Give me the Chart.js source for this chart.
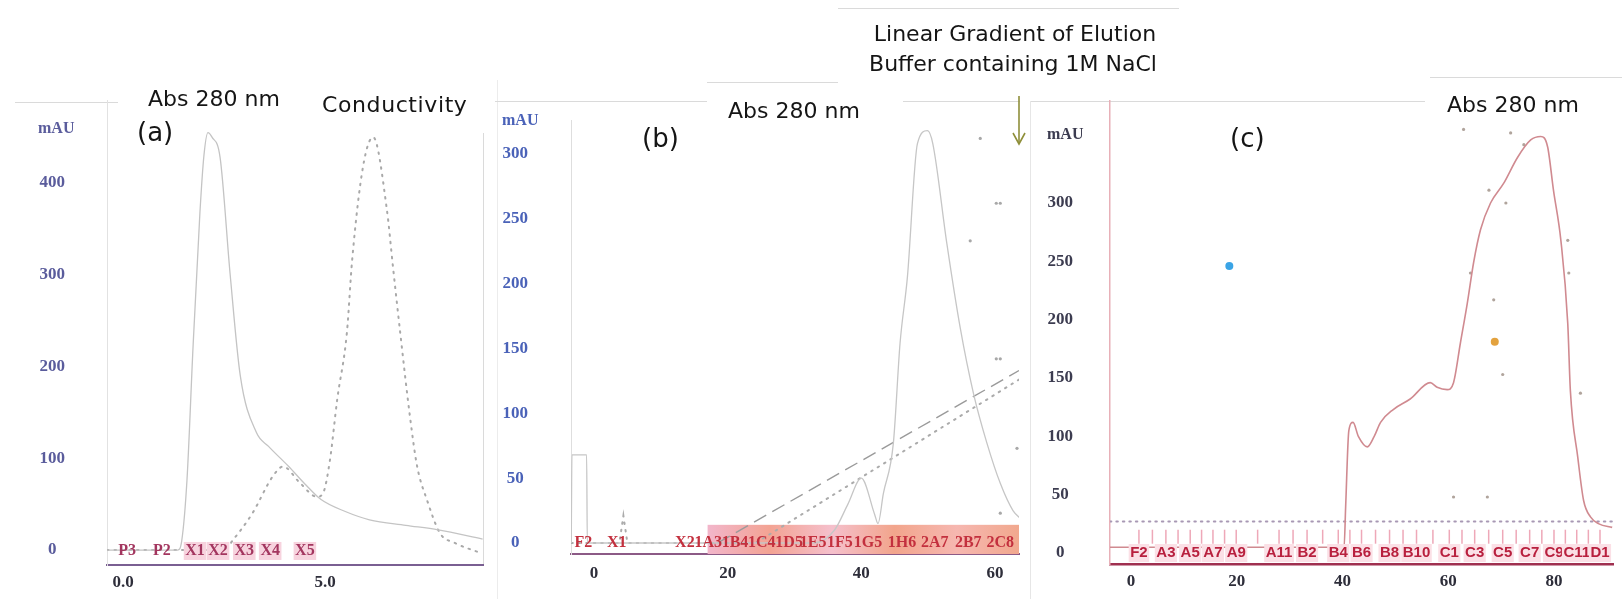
<!DOCTYPE html>
<html>
<head>
<meta charset="utf-8">
<script src="https://cdn.jsdelivr.net/npm/chart.js@4"></script>
<style>
body { margin: 0; background: #fff; width: 1622px; height: 599px; overflow: hidden; position: relative; font-family: 'DejaVu Sans', sans-serif; }
canvas { position: absolute; top: 0; }
.t { position: absolute; white-space: nowrap; font-size: 22px; line-height: 22px; color: #151515; }
.mau { position: absolute; font: bold 16px 'Liberation Serif', serif; line-height: 16px; }
.ln { position: absolute; background: #dadada; }
</style>
</head>
<body>
<!-- scan frame lines -->
<div class="ln" style="left:15px;top:102px;width:103px;height:1px"></div>
<div class="ln" style="left:483px;top:133px;width:1px;height:432px"></div>
<div class="ln" style="left:497px;top:80px;width:1px;height:519px;background:#ececec"></div>
<div class="ln" style="left:495px;top:101px;width:212px;height:1px"></div>
<div class="ln" style="left:707px;top:82px;width:131px;height:1px"></div>
<div class="ln" style="left:903px;top:101px;width:117px;height:1px"></div>
<div class="ln" style="left:838px;top:8px;width:341px;height:1px"></div>
<div class="ln" style="left:1030px;top:101px;width:395px;height:1px"></div>
<div class="ln" style="left:1430px;top:77px;width:192px;height:1px"></div>
<div class="ln" style="left:1030px;top:101px;width:1px;height:498px;background:#e6e6e6"></div>

<canvas id="chartA" width="500" height="599" style="left:0px"></canvas>
<canvas id="chartB" width="525" height="599" style="left:500px"></canvas>
<canvas id="chartC" width="597" height="599" style="left:1025px"></canvas>

<div class="t" style="left:148px;top:88px">Abs 280 nm</div>
<div class="t" style="left:322px;top:94px;letter-spacing:0.6px">Conductivity</div>
<div class="t" style="left:137px;top:119px;font-size:26px;line-height:26px">(a)</div>
<div class="mau" style="left:38px;top:120px;color:#5a5c9c">mAU</div>

<div class="t" style="left:728px;top:100px">Abs 280 nm</div>
<div class="t" style="left:642px;top:125px;font-size:26px;line-height:26px">(b)</div>
<div class="mau" style="left:502px;top:112px;color:#4a62b8">mAU</div>
<div class="t" style="left:1015px;top:23px;transform:translateX(-50%)">Linear Gradient of Elution</div>
<div class="t" style="left:1013px;top:53px;transform:translateX(-50%)">Buffer containing 1M NaCl</div>
<svg style="position:absolute;left:1011px;top:96px" width="16" height="52">
  <line x1="8" y1="0" x2="8" y2="48" stroke="#8f8f3a" stroke-width="1.6"/>
  <polyline points="2,37 8,48 14,37" fill="none" stroke="#8f8f3a" stroke-width="1.6"/>
</svg>

<div class="t" style="left:1447px;top:94px">Abs 280 nm</div>
<div class="t" style="left:1230px;top:125px;font-size:26px;line-height:26px">(c)</div>
<div class="mau" style="left:1047px;top:126px;color:#3c3c50">mAU</div>

<script>
// ---- (a) gel filtration: volume (ml) vs mAU ----
const aTime = [-0.4, 0.5, 1.35, 1.45, 1.58, 1.73, 1.9, 2.0, 2.1, 2.2, 2.4, 2.65, 2.9, 3.3, 3.6, 4.1, 4.5, 4.9, 5.5, 6.1, 7.0, 7.8, 8.9];
const aAbs = [0, 0, 0, 10, 76, 221, 367, 430, 455, 450, 428, 300, 190, 128, 113, 91, 72, 55, 42, 33, 27, 22, 12];
const aCondTime = [-0.4, 2.5, 2.72, 3.2, 3.7, 3.96, 4.38, 4.8, 4.95, 5.12, 5.3, 5.54, 5.67, 5.94, 6.19, 6.53, 6.68, 6.86, 7.1, 7.28, 7.52, 7.85, 8.2, 8.9];
const aCond = [0, 0, 11, 40, 80, 91, 73, 58, 62, 98, 164, 237, 316, 418, 450, 371, 309, 237, 146, 91, 55, 18, 8, -4];
const aTicksX = [0, 5];
const aTicksY = [0, 100, 200, 300, 400];
const aFracPos = [0.1, 0.96, 1.78, 2.35, 3.0, 3.64, 4.5];
const aFracLab = ['P3', 'P2', 'X1', 'X2', 'X3', 'X4', 'X5'];

// ---- (b) ion exchange ----
const bTime = [-3.4, -3.3, -1.1, -1.0, 5, 15, 25, 33, 36, 38, 40, 42, 42.5, 43.3, 44.8, 45.8, 46.9, 48.4, 49.9, 50.7, 52.8, 54.8, 56.8, 58.8, 60.8, 62.7, 64];
const bAbs = [0, 68, 68, 0, 0, 0, 0, 0, 10, 30, 50, 22, 15, 38, 77, 154, 205, 308, 318, 308, 231, 166, 115, 77, 46, 25, 18];
const bGradTime = [18.5, 63.6];
const bGrad = [0, 133];
const bCondTime = [-3.4, 3.8, 4.4, 5.0, 24.2, 63.6];
const bCond = [0, 0, 21, 0, 0, 126];
const bDotTime = [57.8, 60.2, 60.8, 60.2, 60.8, 63.3, 60.8, 56.3];
const bDot = [312, 262, 262, 142, 142, 73, 23, 233];
const bTicksX = [0, 20, 40, 60];
const bTicksY = [0, 50, 100, 150, 200, 250, 300];
const bFracPos = [-1.6, 3.4, 13.6, 17.1, 21.1, 25.1, 29.2, 32.8, 36.8, 41.0, 46.1, 51.0, 56.0, 60.8];
const bFracLab = ['F2', 'X1', 'X2', '1A3', '1B4', '1C4', '1D5', '1E5', '1F5', '1G5', '1H6', '2A7', '2B7', '2C8'];

// ---- (c) second column ----
const cTime = [-4, 0, 20, 38, 40.3, 40.6, 41.2, 42.0, 43.0, 44.7, 46.0, 47.2, 49.6, 52.8, 56.6, 57.9, 59.8, 61.0, 62.3, 63.6, 64.8, 66.1, 68.0, 70.5, 73.1, 75.6, 77.5, 78.8, 79.9, 81.3, 82.6, 83.1, 84.5, 85.6, 86.9, 88.5, 91];
const cAbs = [5, 5, 5, 5, 5, 40, 105, 112, 100, 91, 100, 112, 123, 132, 146, 142, 140, 146, 180, 214, 249, 277, 300, 317, 339, 354, 357, 348, 311, 268, 197, 139, 82, 45, 31, 25, 22];
const cBaseTime = [-4, 91];
const cBase = [27, 27];
const cDotTime = [62.9, 71.8, 74.3, 67.7, 70.9, 64.2, 82.6, 82.8, 85.0, 68.6, 70.3, 61.0, 67.4];
const cDot = [363, 360, 350, 311, 300, 240, 268, 240, 137, 217, 153, 48, 48];
const cSpotTime = [18.6, 68.8];
const cSpot = [246, 181];
const cTicksX = [0, 20, 40, 60, 80];
const cTicksY = [0, 50, 100, 150, 200, 250, 300];
const cFracPos = [1.5, 6.6, 11.2, 15.5, 19.9, 28.0, 33.3, 39.2, 43.6, 48.9, 54.0, 60.2, 65.0, 70.3, 75.4, 80.0, 84.3, 88.7];
const cFracLab = ['F2', 'A3', 'A5', 'A7', 'A9', 'A11', 'B2', 'B4', 'B6', 'B8', 'B10', 'C1', 'C3', 'C5', 'C7', 'C9', 'C11', 'D1'];

const pts = (xs, ys) => xs.map((x, i) => ({ x: x, y: ys[i] }));

// fraction collector labels drawn along the baseline
function fractionPlugin(f) {
    return {
        id: 'fractions',
        beforeDatasetsDraw(chart) {
            const { ctx, chartArea } = chart;
            const xs = chart.scales.x, ys = chart.scales.y;
            ctx.save();
            if (f.band) {
                const x0 = xs.getPixelForValue(f.band.from);
                const y0 = ys.getPixelForValue(f.band.top);
                const g = ctx.createLinearGradient(x0, 0, chartArea.right, 0);
                f.band.colors.forEach((c, i) => g.addColorStop(i / (f.band.colors.length - 1), c));
                ctx.fillStyle = g;
                ctx.fillRect(x0, y0, chartArea.right - x0, chartArea.bottom - y0);
            }
            if (f.ticks) {
                ctx.strokeStyle = f.ticks.color;
                ctx.lineWidth = 1.5;
                const yt = ys.getPixelForValue(f.ticks.top), yb = ys.getPixelForValue(f.ticks.bottom);
                f.pos.forEach((p, i) => {
                    const marks = [p];
                    if (i < f.pos.length - 1) marks.push((p + f.pos[i + 1]) / 2);
                    marks.forEach(m => {
                        const px = xs.getPixelForValue(m);
                        ctx.beginPath(); ctx.moveTo(px, yt); ctx.lineTo(px, yb); ctx.stroke();
                    });
                });
            }
            ctx.restore();
        },
        afterDatasetsDraw(chart) {
            const { ctx } = chart;
            const xs = chart.scales.x, ys = chart.scales.y;
            ctx.save();
            ctx.font = f.font;
            ctx.textAlign = 'center';
            ctx.textBaseline = 'middle';
            const py = ys.getPixelForValue(f.y);
            f.labels.forEach((lab, i) => {
                const px = xs.getPixelForValue(f.pos[i]);
                if (f.shade && i >= f.shadeFrom) {
                    const w = ctx.measureText(lab).width + 3;
                    ctx.fillStyle = f.shade;
                    ctx.fillRect(px - w / 2, py - 9, w, 18);
                }
                ctx.fillStyle = f.color;
                ctx.fillText(lab, px, py);
            });
            ctx.restore();
        }
    };
}

function axes(o) {
    return {
        x: {
            type: 'linear', min: o.xMin, max: o.xMax,
            afterBuildTicks: s => { s.ticks = o.xTicks.map(v => ({ value: v })); },
            afterFit: s => { s.height = o.xHeight; },
            grid: { display: false, drawTicks: false },
            border: { color: o.xBorder, width: o.xBorderWidth },
            ticks: {
                autoSkip: false, maxRotation: 0, padding: o.xPad, color: '#2e2e3a',
                font: { family: 'Liberation Serif', size: 17, weight: 'bold' },
                callback: o.xFmt || (v => v)
            }
        },
        y: {
            type: 'linear', min: o.yMin, max: o.yMax,
            afterBuildTicks: s => { s.ticks = o.yTicks.map(v => ({ value: v })); },
            // fixed axis width; drop the label padding so it does not shrink the plot vertically
            afterFit: s => { s.width = o.yWidth; s.paddingTop = 0; s.paddingBottom = 0; },
            grid: { display: false, drawTicks: false },
            border: { color: o.yBorder, width: o.yBorderWidth },
            ticks: {
                autoSkip: false, padding: o.yPad, color: o.yColor, crossAlign: 'center',
                font: { family: 'Liberation Serif', size: 17, weight: 'bold' }
            }
        }
    };
}

const common = {
    responsive: false,
    animation: false,
    events: [],
    plugins: { legend: { display: false }, tooltip: { enabled: false } }
};

// (a)
new Chart(document.getElementById('chartA').getContext('2d'), {
    type: 'line',
    data: {
        datasets: [{
            data: pts(aTime, aAbs),
            borderColor: '#c4c4c4', borderWidth: 1.3, pointRadius: 0,
            cubicInterpolationMode: 'monotone'
        }, {
            data: pts(aCondTime, aCond),
            borderColor: '#a9a9a9', borderWidth: 2, borderDash: [1.5, 6], borderCapStyle: 'round',
            pointRadius: 0, cubicInterpolationMode: 'monotone'
        }]
    },
    options: Object.assign({}, common, {
        layout: { padding: { left: 0, top: 100, right: 17, bottom: 0 } },
        scales: axes({
            xMin: -0.4, xMax: 8.91, xTicks: aTicksX, xHeight: 34, xPad: 7,
            xBorder: '#7a5f92', xBorderWidth: 2, xFmt: v => v.toFixed(1),
            yMin: -16.3, yMax: 490.5, yTicks: aTicksY, yWidth: 107, yPad: 42,
            yBorder: '#e2e2e2', yBorderWidth: 1, yColor: '#5a5c9c'
        })
    }),
    plugins: [fractionPlugin({
        pos: aFracPos, labels: aFracLab, y: -1, color: '#a3365f',
        font: 'bold 16px "Liberation Serif"', shade: '#f7d3de', shadeFrom: 2
    })]
});

// (b)
new Chart(document.getElementById('chartB').getContext('2d'), {
    type: 'line',
    data: {
        datasets: [{
            data: pts(bTime, bAbs),
            borderColor: '#c6c6c6', borderWidth: 1.3, pointRadius: 0,
            cubicInterpolationMode: 'monotone'
        }, {
            data: pts(bGradTime, bGrad),
            borderColor: '#9a9a9a', borderWidth: 1.4, borderDash: [14, 7], pointRadius: 0
        }, {
            data: pts(bCondTime, bCond),
            borderColor: '#ababab', borderWidth: 2, borderDash: [1.5, 6], borderCapStyle: 'round', pointRadius: 0
        }, {
            data: pts(bDotTime, bDot),
            showLine: false, pointRadius: 1.6, pointBorderWidth: 0, pointBackgroundColor: '#a8a8a8'
        }]
    },
    options: Object.assign({}, common, {
        layout: { padding: { left: 0, top: 120, right: 6, bottom: 0 } },
        scales: axes({
            xMin: -3.44, xMax: 63.6, xTicks: bTicksX, xHeight: 45, xPad: 9,
            xBorder: '#8c5a86', xBorderWidth: 2,
            yMin: -8.5, yMax: 326.2, yTicks: bTicksY, yWidth: 71, yPad: 43,
            yBorder: '#dedede', yBorderWidth: 1, yColor: '#4a62b8'
        })
    }),
    plugins: [fractionPlugin({
        pos: bFracPos, labels: bFracLab, y: 0, color: '#c3303e',
        font: 'bold 16px "Liberation Serif"',
        band: { from: 17, top: 14, colors: ['#f2b6cb', '#f3a393', '#f5c0cc', '#f2a58c', '#f6b7b0', '#f1a88e'] }
    })]
});

// (c)
new Chart(document.getElementById('chartC').getContext('2d'), {
    type: 'line',
    data: {
        datasets: [{
            data: pts(cTime, cAbs),
            borderColor: '#d08a90', borderWidth: 1.6, pointRadius: 0,
            cubicInterpolationMode: 'monotone'
        }, {
            data: pts(cBaseTime, cBase),
            borderColor: '#a898b4', borderWidth: 2, borderDash: [1.5, 5], borderCapStyle: 'round', pointRadius: 0
        }, {
            data: pts(cDotTime, cDot),
            showLine: false, pointRadius: 1.6, pointBorderWidth: 0, pointBackgroundColor: '#b0a49c'
        }, {
            data: pts(cSpotTime, cSpot),
            showLine: false, pointRadius: 4, pointBorderWidth: 0,
            pointBackgroundColor: ['#3aa4e6', '#e3a23e']
        }]
    },
    options: Object.assign({}, common, {
        layout: { padding: { left: 0, top: 101, right: 9, bottom: 0 } },
        scales: axes({
            xMin: -3.97, xMax: 91.16, xTicks: cTicksX, xHeight: 35, xPad: 7,
            xBorder: '#a03050', xBorderWidth: 2.5,
            yMin: -9.4, yMax: 387.4, yTicks: cTicksY, yWidth: 85, yPad: 37,
            yBorder: '#e8b0b8', yBorderWidth: 1.5, yColor: '#3c3c50'
        })
    }),
    plugins: [fractionPlugin({
        pos: cFracPos, labels: cFracLab, y: 0, color: '#b8203e',
        font: 'bold 15px "Liberation Sans"', shade: '#fbe0e6', shadeFrom: 0,
        ticks: { top: 20, bottom: 8, color: '#eea8b8' }
    })]
});
</script>
</body>
</html>
